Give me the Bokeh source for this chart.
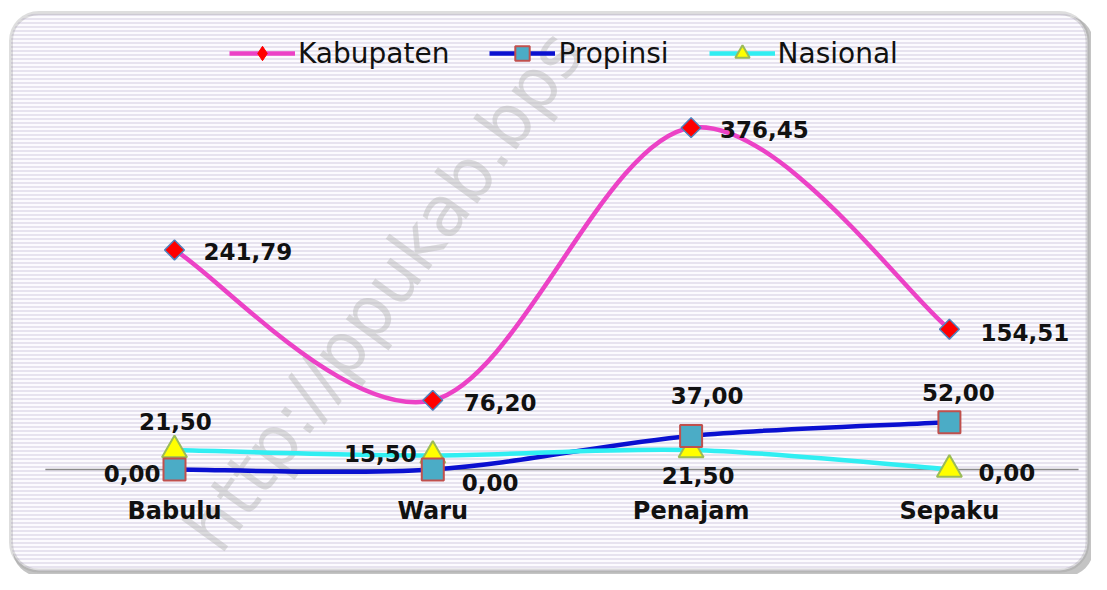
from bokeh.plotting import figure
from bokeh.models import Range1d, BoxAnnotation, Label, Legend, LegendItem, ColumnDataSource
from bokeh.core.properties import value
from bokeh.embed import file_html
from bokeh.resources import INLINE

# ---- data ----
categories = ["Babulu", "Waru", "Penajam", "Sepaku"]
kabupaten = [241.79, 76.20, 376.45, 154.51]
propinsi = [0.00, 0.00, 37.00, 52.00]
nasional = [21.50, 15.50, 21.50, 0.00]

# ---- layout helpers (pixel geometry) ----
W, H = 1091, 574
XPX0, XSTEP = 174.0, 258.3      # canvas px of first category, px per category
Y0PX, YSCALE = 469.0, 0.908     # canvas px of zero, px per unit


def fx(px):
    return (px - XPX0) / XSTEP


def fy(py):
    return (Y0PX - py) / YSCALE


FONT = value("DejaVu Sans")
FONT_S = "DejaVu Sans"

p = figure(width=W, height=H, output_backend="svg", toolbar_location=None,
           x_range=Range1d(fx(0), fx(W)),
           y_range=Range1d(fy(H), fy(0)),
           x_axis_type=None, y_axis_type=None, min_border=0)
p.title.visible = False
p.outline_line_color = None
p.background_fill_color = "white"
p.border_fill_color = "white"

# ---- frame with shadow and stripes ----
shadow = BoxAnnotation(left=fx(12), right=fx(1093), top=fy(15), bottom=fy(576),
                       border_radius=28, fill_color="#8a8a8a", fill_alpha=0.5,
                       line_color=None, level="underlay")
frame = BoxAnnotation(left=fx(10.5), right=fx(1087), top=fy(12.5), bottom=fy(570),
                      border_radius=28, fill_color="#fcfbfe", fill_alpha=1.0,
                      line_color="#939393", line_width=4,
                      hatch_pattern="horizontal_line", hatch_scale=4,
                      hatch_weight=1.2, hatch_color="#d8d3e4", hatch_alpha=1.0,
                      level="underlay")
p.add_layout(shadow)
p.add_layout(frame)

wm = Label(x=fx(234), y=fy(566), text="http://ppukab.bps", angle=54,
           angle_units="deg", text_font=FONT_S, text_font_size="70px",
           text_baseline="bottom",
           text_color="#b4b4b4", text_alpha=0.45, level="underlay")
p.add_layout(wm)

# ---- zero (category axis) line ----
xs = list(range(len(categories)))
p.segment(x0=[xs[0] - 0.5], y0=[0], x1=[xs[-1] + 0.5], y1=[0],
          line_color="#8a8a8a", line_width=1.5)


# ---- smooth curves (Catmull-Rom -> cubic Bezier) ----
def smooth(xv, yv):
    n = len(xv)
    d = dict(x0=[], y0=[], x1=[], y1=[], cx0=[], cy0=[], cx1=[], cy1=[])
    for i in range(n - 1):
        i0 = max(i - 1, 0)
        i3 = min(i + 2, n - 1)
        d["x0"].append(xv[i]); d["y0"].append(yv[i])
        d["x1"].append(xv[i + 1]); d["y1"].append(yv[i + 1])
        d["cx0"].append(xv[i] + (xv[i + 1] - xv[i0]) / 6)
        d["cy0"].append(yv[i] + (yv[i + 1] - yv[i0]) / 6)
        d["cx1"].append(xv[i + 1] - (xv[i3] - xv[i]) / 6)
        d["cy1"].append(yv[i + 1] - (yv[i3] - yv[i]) / 6)
    return ColumnDataSource(d)


series = [
    ("Kabupaten", kabupaten, "#ec42c6",
     dict(marker="square", size=14, angle=45, angle_units="deg",
          fill_color="#ff0000", line_color="#4f81bd", line_width=1.5)),
    ("Propinsi", propinsi, "#0a10d0",
     dict(marker="square", size=22, fill_color="#4bacc6",
          line_color="#c0504d", line_width=2)),
    ("Nasional", nasional, "#30eef2",
     dict(marker="triangle", size=25, fill_color="#ffff00",
          line_color="#9bbb59", line_width=2)),
]

curves = {}
for name, vals, col, mk in series:
    curves[name] = p.bezier(x0="x0", y0="y0", x1="x1", y1="y1", cx0="cx0", cy0="cy0",
                            cx1="cx1", cy1="cy1", source=smooth(xs, vals),
                            line_color=col, line_width=4.5)

marks = {}
for name, vals, col, mk in reversed(series):
    marks[name] = p.scatter(x=xs, y=vals, **mk)

# legend swatch for the rotated-square (diamond) markers
kab_swatch = p.scatter(x=xs, y=kabupaten, marker="diamond", size=20,
                       fill_color="#ff0000", line_color="#ff0000")
kab_swatch.visible = False
legend_marks = {"Kabupaten": kab_swatch, "Propinsi": marks["Propinsi"],
                "Nasional": marks["Nasional"]}


# ---- data labels ----
def fmt(v):
    return f"{v:.2f}".replace(".", ",")


label_specs = {
    # name: list of (align, x_offset, y_offset) per category
    "Kabupaten": [("left", 29, 2), ("left", 31, 2), ("left", 29, 2), ("left", 31, 3)],
    "Propinsi": [("right", -14, 4), ("left", 29, 13), ("center", 16, -40), ("center", 9, -30)],
    "Nasional": [("center", 1, -28), ("right", -16, -2), ("center", 7, 26), ("left", 29, 3)],
}
vals_by_name = {"Kabupaten": kabupaten, "Propinsi": propinsi, "Nasional": nasional}
for align in ("left", "right", "center"):
    d = dict(x=[], y=[], t=[], xo=[], yo=[])
    for name, specs in label_specs.items():
        for i, (a, xo, yo) in enumerate(specs):
            if a == align:
                d["x"].append(xs[i]); d["y"].append(vals_by_name[name][i])
                d["t"].append(fmt(vals_by_name[name][i]))
                d["xo"].append(xo); d["yo"].append(yo)
    p.text(x="x", y="y", text="t", x_offset="xo", y_offset="yo",
           source=ColumnDataSource(d), text_align=align, text_baseline="middle",
           text_font=FONT, text_font_style="bold", text_font_size="23px",
           text_color="#111111")

# ---- category labels ----
p.text(x=xs, y=[0] * len(xs), text=categories, y_offset=41,
       text_align="center", text_baseline="middle", text_font=FONT,
       text_font_style="bold", text_font_size="24px", text_color="#111111")

# ---- legend ----
legend = Legend(items=[LegendItem(label=n, renderers=[curves[n], legend_marks[n]])
                       for n, *_ in series],
                orientation="horizontal", location=(229, 503),
                glyph_width=66, glyph_height=36, label_standoff=3, spacing=40,
                padding=6, margin=0, background_fill_alpha=0,
                border_line_color=None, label_text_font=FONT_S,
                label_text_font_size="28px", label_text_color="#111111")
p.add_layout(legend)

open("out.html", "w").write(file_html(p, INLINE))
